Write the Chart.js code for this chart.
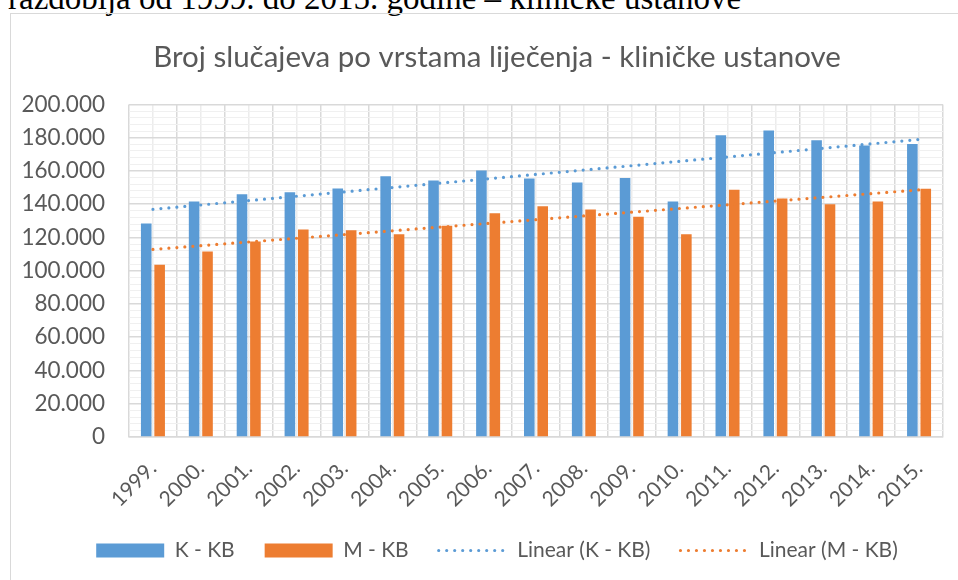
<!DOCTYPE html>
<html>
<head>
<meta charset="utf-8">
<script src="https://cdn.jsdelivr.net/npm/chart.js@4.4.1/dist/chart.umd.min.js"></script>
<style>
	html, body { margin: 0; padding: 0; background: #fff; overflow: hidden; width: 958px; height: 580px; }
	#caption {
		position: absolute; left: 8px; top: -18px; white-space: nowrap; line-height: 33px;
		font-family: 'Liberation Serif', 'Times New Roman', serif; font-size: 33px; color: #000;
	}
	#frame {
		position: absolute; left: 10px; top: 13px; width: 980px; height: 600px;
		border: 1.5px solid #d9d9d9; box-sizing: border-box;
	}
	#chart { position: absolute; left: 11px; top: 14px; }
</style>
</head>
<body>
<div id="caption">razdoblja od 1999. do 2015. godine – kliničke ustanove</div>
<div id="frame"></div>
<canvas id="chart" width="972" height="566"></canvas>
<script>
const years = ['1999.', '2000.', '2001.', '2002.', '2003.', '2004.', '2005.', '2006.', '2007.',
	'2008.', '2009.', '2010.', '2011.', '2012.', '2013.', '2014.', '2015.'];
const kKB = [128400, 141600, 145900, 147100, 149500, 156800, 154300, 160200, 155500,
	153100, 155700, 141600, 181500, 184300, 178500, 175300, 176200];
const mKB = [103600, 111500, 117500, 124700, 124300, 121900, 127100, 134600, 138800,
	136800, 132400, 121900, 148700, 143400, 140000, 141600, 149300];
// trend line end points (first and last year)
const trendK = [136900, 178900];
const trendM = [112800, 148600];

const blue = '#5b9bd5';
const orange = '#ed7d31';
const textColor = '#595959';
const fontFamily = 'Lato, "Open Sans", sans-serif';

const fmtThousands = (v) => String(v).replace(/\B(?=(\d{3})+(?!\d))/g, '.');

const trendPoints = (ends) => [
	{ x: years[0], y: ends[0] },
	{ x: years[years.length - 1], y: ends[1] },
];

const dotted = (color) => ({
	type: 'line',
	borderColor: color,
	backgroundColor: color,
	borderWidth: 3.2,
	borderDash: [0, 8],
	borderCapStyle: 'round',
	pointRadius: 0,
	fill: false,
	tension: 0,
	spanGaps: true,
	order: 0,
});

new Chart(document.getElementById('chart'), {
	type: 'bar',
	data: {
		labels: years,
		datasets: [
			{ label: 'K - KB', data: kKB, backgroundColor: blue, borderWidth: 0, order: 1 },
			{ label: 'M - KB', data: mKB, backgroundColor: orange, borderWidth: 0, order: 1 },
			{ ...dotted(blue), label: 'Linear (K - KB)', data: trendPoints(trendK) },
			{ ...dotted(orange), label: 'Linear (M - KB)', data: trendPoints(trendM) },
		],
	},
	options: {
		responsive: false,
		devicePixelRatio: 1,
		animation: false,
		datasets: {
			bar: { categoryPercentage: 0.56, barPercentage: 0.79 },
		},
		layout: { padding: { left: 0, right: 0, top: 0, bottom: 9 } },
		plugins: {
			tooltip: { enabled: false },
			title: {
				display: true,
				text: 'Broj slučajeva po vrstama liječenja - kliničke ustanove',
				color: textColor,
				font: { family: fontFamily, size: 29.5, weight: 'normal' },
				padding: { top: 26, bottom: 29 },
			},
			legend: {
				position: 'bottom',
				labels: {
					color: textColor,
					font: { family: fontFamily, size: 21 },
					usePointStyle: true,
					pointStyleWidth: 68,
					boxHeight: 14,
					padding: 30,
					// legend follows dataset order, not draw order
					sort: (a, b) => a.datasetIndex - b.datasetIndex,
					generateLabels: (chart) => {
						const items = Chart.defaults.plugins.legend.labels.generateLabels(chart);
						items.forEach((item) => {
							const ds = chart.data.datasets[item.datasetIndex];
							if (ds.type === 'line') {
								item.pointStyle = 'line';
								item.strokeStyle = ds.borderColor;
								item.fillStyle = ds.borderColor;
								item.lineWidth = 3.2;
								item.lineDash = [0, 8];
								item.lineCap = 'round';
							} else {
								item.pointStyle = 'rect';
								item.fillStyle = ds.backgroundColor;
								item.lineWidth = 0;
							}
						});
						return items;
					},
				},
			},
		},
		scales: {
			x: {
				offset: true,
				grid: { display: true, offset: true, color: '#d9d9d9', lineWidth: 1.5, drawTicks: false },
				border: { display: true, color: '#d9d9d9', width: 1.5 },
				ticks: {
					color: textColor,
					font: { family: fontFamily, size: 21 },
					maxRotation: 45,
					minRotation: 45,
					padding: 19,
					labelOffset: 0,
				},
				afterFit: (scale) => { scale.height = 73; },
			},
			xMinor: {
				type: 'category',
				position: 'bottom',
				offset: true,
				grid: { display: true, offset: false, color: '#ececec', lineWidth: 1.5, drawTicks: false },
				border: { display: false },
				ticks: { display: false },
				afterFit: (scale) => { scale.height = 0; },
			},
			y: {
				min: 0,
				max: 200000,
				grid: {
					drawTicks: false,
					color: (ctx) => (ctx.tick && ctx.tick.value % 20000 === 0 ? '#d9d9d9' : '#f0f0f0'),
					lineWidth: (ctx) => (ctx.tick && ctx.tick.value % 20000 === 0 ? 1.5 : 1),
				},
				border: { display: false },
				ticks: {
					stepSize: 4000,
					autoSkip: false,
					color: textColor,
					font: { family: fontFamily, size: 22.5 },
					padding: 24,
					callback: (v) => (v % 20000 === 0 ? fmtThousands(v) : ''),
				},
				afterFit: (scale) => { scale.width = 118; },
			},
			yRight: {
				position: 'right',
				grid: { display: false },
				border: { display: false },
				ticks: { display: false },
				afterFit: (scale) => { scale.width = 40; },
			},
		},
	},
});
</script>
</body>
</html>
